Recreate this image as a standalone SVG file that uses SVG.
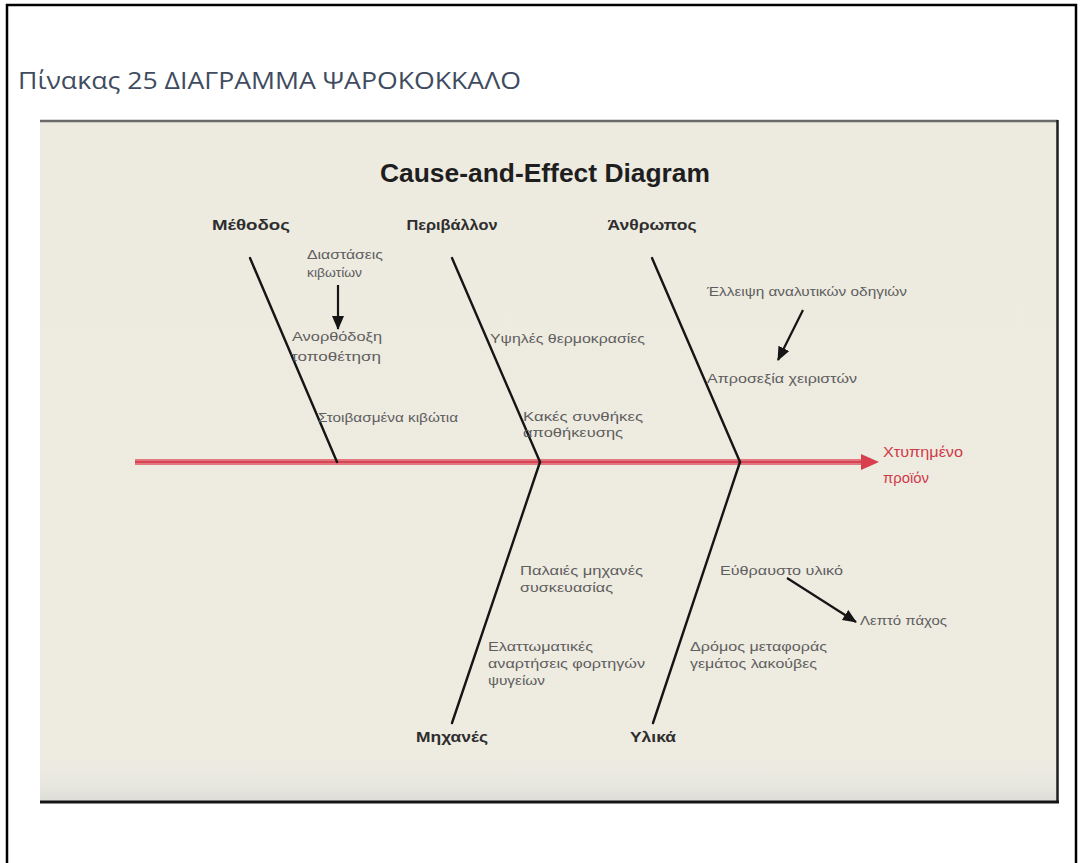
<svg xmlns="http://www.w3.org/2000/svg" width="1082" height="863" viewBox="0 0 1082 863">
  <style>
    .caption { font-family: "Open Sans", "Noto Sans", sans-serif; font-size: 23px; fill: #3f4c60; }
    .title { font-family: "Liberation Sans", Arial, sans-serif; font-size: 25px; font-weight: bold; fill: #1e1e1e; }
    .cat { font-family: "Liberation Sans", Arial, sans-serif; font-size: 14px; font-weight: bold; fill: #2e2e2e; }
    .cause { font-family: "Liberation Sans", Arial, sans-serif; font-size: 12.5px; fill: #5e5e5e; }
    .effect { font-family: "Liberation Sans", Arial, sans-serif; font-size: 14px; fill: #d03a48; }
    .bone { stroke: #151515; stroke-width: 2.4; fill: none; stroke-linecap: round; }
    .link { stroke: #151515; stroke-width: 2.2; fill: none; marker-end: url(#head); }
  </style>
  <defs>
    <marker id="head" markerUnits="userSpaceOnUse" markerWidth="14" markerHeight="12" refX="13" refY="6" orient="auto">
      <path d="M0,0 L14,6 L0,12 Z" fill="#151515"/>
    </marker>
    <linearGradient id="paper" x1="0" y1="0" x2="0" y2="1">
      <stop offset="0" stop-color="#edeae0"/>
      <stop offset="0.93" stop-color="#eeebe1"/>
      <stop offset="0.97" stop-color="#e9e8e0"/>
      <stop offset="1" stop-color="#dcdcd6"/>
    </linearGradient>
  </defs>

  <!-- page frame (open at the bottom) -->
  <rect x="0" y="0" width="1082" height="863" fill="#ffffff"/>
  <path d="M7,863 V5 H1076 V863" fill="none" stroke="#000" stroke-width="2.5"/>

  <text class="caption" x="18" y="89" textLength="503" lengthAdjust="spacingAndGlyphs">Πίνακας 25  ΔΙΑΓΡΑΜΜΑ ΨΑΡΟΚΟΚΚΑΛΟ</text>

  <!-- chart panel -->
  <g id="panel">
    <rect x="40" y="120" width="1018" height="683" fill="url(#paper)"/>
    <line x1="40" y1="121" x2="1058" y2="121" stroke="#6a6a6a" stroke-width="2.5"/>
    <line x1="1057.5" y1="120" x2="1057.5" y2="803" stroke="#1e1e1e" stroke-width="2.5"/>
    <line x1="40" y1="802" x2="1059" y2="802" stroke="#141414" stroke-width="3"/>
  </g>

  <text class="title" x="545" y="182" text-anchor="middle" textLength="330" lengthAdjust="spacingAndGlyphs">Cause-and-Effect Diagram</text>

  <!-- spine and bones -->
  <g id="connectors">
    <line x1="135" y1="462" x2="864" y2="462" stroke="#e3777f" stroke-width="6"/>
    <line x1="135" y1="462" x2="864" y2="462" stroke="#d54452" stroke-width="2"/>
    <path d="M861,454 L879,462 L861,470 Z" fill="#d8404e"/>

    <line class="bone" x1="250" y1="258" x2="337" y2="462"/>
    <line class="bone" x1="452" y1="258" x2="540" y2="462"/>
    <line class="bone" x1="652" y1="258" x2="740" y2="462"/>
    <line class="bone" x1="540" y1="462" x2="452" y2="723"/>
    <line class="bone" x1="740" y1="462" x2="653" y2="723"/>

    <line class="link" x1="338" y1="285" x2="338" y2="329"/>
    <line class="link" x1="803" y1="310" x2="778" y2="360"/>
    <line class="link" x1="787" y1="578" x2="856" y2="622"/>
  </g>

  <!-- categories -->
  <g id="node-method">
    <text class="cat" x="251" y="230" text-anchor="middle" textLength="78" lengthAdjust="spacingAndGlyphs">Μέθοδος</text>
    <text class="cause" x="307" y="259" textLength="76" lengthAdjust="spacingAndGlyphs">Διαστάσεις</text>
    <text class="cause" x="307" y="277" textLength="55" lengthAdjust="spacingAndGlyphs">κιβωτίων</text>
    <text class="cause" x="292" y="341" textLength="90" lengthAdjust="spacingAndGlyphs">Ανορθόδοξη</text>
    <text class="cause" x="291" y="361" textLength="90" lengthAdjust="spacingAndGlyphs">τοποθέτηση</text>
    <text class="cause" x="318" y="422" textLength="140" lengthAdjust="spacingAndGlyphs">Στοιβασμένα κιβώτια</text>
  </g>

  <g id="node-environment">
    <text class="cat" x="452" y="230" text-anchor="middle" textLength="91" lengthAdjust="spacingAndGlyphs">Περιβάλλον</text>
    <text class="cause" x="490" y="343" textLength="155" lengthAdjust="spacingAndGlyphs">Υψηλές θερμοκρασίες</text>
    <text class="cause" x="523" y="421" textLength="120" lengthAdjust="spacingAndGlyphs">Κακές συνθήκες</text>
    <text class="cause" x="523" y="437" textLength="100" lengthAdjust="spacingAndGlyphs">αποθήκευσης</text>
  </g>

  <g id="node-people">
    <text class="cat" x="652" y="230" text-anchor="middle" textLength="89" lengthAdjust="spacingAndGlyphs">Άνθρωπος</text>
    <text class="cause" x="707" y="296" textLength="200" lengthAdjust="spacingAndGlyphs">Έλλειψη αναλυτικών οδηγιών</text>
    <text class="cause" x="707" y="383" textLength="150" lengthAdjust="spacingAndGlyphs">Απροσεξία χειριστών</text>
  </g>

  <g id="node-machines">
    <text class="cat" x="452" y="742" text-anchor="middle" textLength="72" lengthAdjust="spacingAndGlyphs">Μηχανές</text>
    <text class="cause" x="520" y="575" textLength="123" lengthAdjust="spacingAndGlyphs">Παλαιές μηχανές</text>
    <text class="cause" x="520" y="592" textLength="93" lengthAdjust="spacingAndGlyphs">συσκευασίας</text>
    <text class="cause" x="488" y="651" textLength="105" lengthAdjust="spacingAndGlyphs">Ελαττωματικές</text>
    <text class="cause" x="488" y="668" textLength="157" lengthAdjust="spacingAndGlyphs">αναρτήσεις φορτηγών</text>
    <text class="cause" x="488" y="685" textLength="57" lengthAdjust="spacingAndGlyphs">ψυγείων</text>
  </g>

  <g id="node-materials">
    <text class="cat" x="653" y="742" text-anchor="middle" textLength="46" lengthAdjust="spacingAndGlyphs">Υλικά</text>
    <text class="cause" x="720" y="575" textLength="123" lengthAdjust="spacingAndGlyphs">Εύθραυστο υλικό</text>
    <text class="cause" x="860" y="625" textLength="87" lengthAdjust="spacingAndGlyphs">Λεπτό πάχος</text>
    <text class="cause" x="690" y="651" textLength="137" lengthAdjust="spacingAndGlyphs">Δρόμος μεταφοράς</text>
    <text class="cause" x="690" y="668" textLength="127" lengthAdjust="spacingAndGlyphs">γεμάτος λακούβες</text>
  </g>

  <g id="node-effect">
    <text class="effect" x="883" y="457" textLength="80" lengthAdjust="spacingAndGlyphs">Χτυπημένο</text>
    <text class="effect" x="883" y="483" textLength="46" lengthAdjust="spacingAndGlyphs">προϊόν</text>
  </g>
</svg>
